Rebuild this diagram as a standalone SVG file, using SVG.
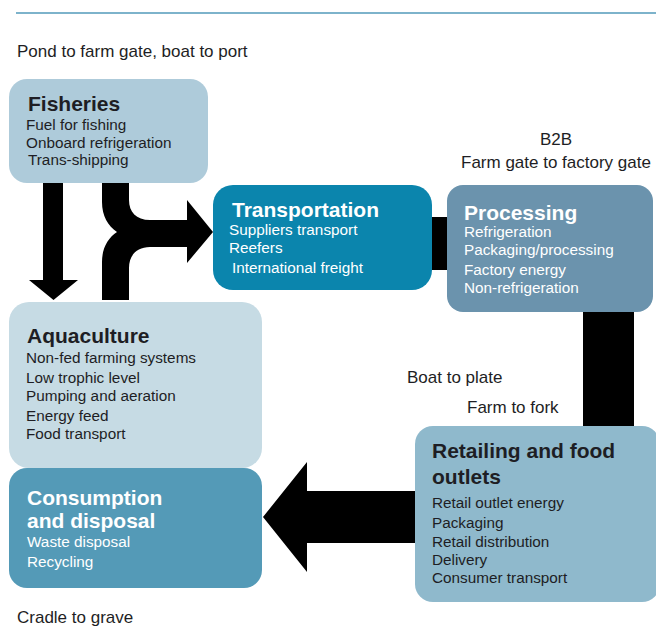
<svg xmlns="http://www.w3.org/2000/svg" width="656" height="626" viewBox="0 0 656 626">
  <style>
    text { font-family: "Liberation Sans", Arial, sans-serif; fill: #1e1e24; }
    .label { font-size: 17px; }
    .title { font-size: 21px; font-weight: bold; }
    .item { font-size: 15.3px; }
    .light text { fill: #ffffff; }
    .conn { fill: #000000; }
  </style>

  <!-- header rule -->
  <line x1="16" y1="13" x2="656" y2="13" stroke="#7db3cb" stroke-width="2"/>

  <!-- stage labels -->
  <g id="labels">
    <text class="label" x="17" y="57">Pond to farm gate, boat to port</text>
    <text class="label" x="556" y="145" text-anchor="middle">B2B</text>
    <text class="label" x="461" y="168">Farm gate to factory gate</text>
    <text class="label" x="407" y="383">Boat to plate</text>
    <text class="label" x="467" y="413">Farm to fork</text>
    <text class="label" x="17" y="623">Cradle to grave</text>
  </g>

  <!-- connectors -->
  <g id="connectors">
    <!-- fisheries down to aquaculture -->
    <path class="conn" d="M43,183 H63 V280 H78 L53.5,300 L29,280 H43 Z"/>
    <!-- fisheries / aquaculture merge into transportation -->
    <path class="conn" d="M102,183 H129 V200 C129,212 136,220 150,220 H187 V200 L213,232 L187,263 V247 H150 C136,247 129,256 129,268 V300 H102 V262 C102,248 108,238 117,232 C108,226 102,216 102,202 Z"/>
    <!-- transportation to processing -->
    <rect class="conn" x="431" y="217" width="17" height="53"/>
    <!-- processing down to retailing -->
    <rect class="conn" x="583" y="311" width="51" height="116"/>
    <!-- retailing to consumption -->
    <path class="conn" d="M416,491 V543 H307 V572 L263,517 L307,462 V491 Z"/>
  </g>

  <g id="fisheries">
    <rect x="9" y="79" width="199" height="104" rx="18" fill="#aecbda"/>
    <text class="title" x="28" y="111">Fisheries</text>
    <text class="item" x="26" y="130">Fuel for fishing</text>
    <text class="item" x="26" y="148">Onboard refrigeration</text>
    <text class="item" x="28" y="165">Trans-shipping</text>
  </g>

  <g id="transportation" class="light">
    <rect x="213" y="185" width="219" height="105" rx="20" fill="#0b85ad"/>
    <text class="title" x="232" y="217">Transportation</text>
    <text class="item" x="229" y="235">Suppliers transport</text>
    <text class="item" x="229" y="253">Reefers</text>
    <text class="item" x="232" y="273">International freight</text>
  </g>

  <g id="processing" class="light">
    <rect x="447" y="185" width="206" height="127" rx="16" fill="#6b93ad"/>
    <text class="title" x="464" y="220">Processing</text>
    <text class="item" x="464" y="237">Refrigeration</text>
    <text class="item" x="464" y="255">Packaging/processing</text>
    <text class="item" x="464" y="275">Factory energy</text>
    <text class="item" x="464" y="293">Non-refrigeration</text>
  </g>

  <g id="aquaculture">
    <rect x="9" y="302" width="253" height="166" rx="20" fill="#c6dbe4"/>
    <text class="title" x="27" y="343">Aquaculture</text>
    <text class="item" x="26" y="363">Non-fed farming systems</text>
    <text class="item" x="26" y="383">Low trophic level</text>
    <text class="item" x="26" y="401">Pumping and aeration</text>
    <text class="item" x="26" y="421">Energy feed</text>
    <text class="item" x="26" y="439">Food transport</text>
  </g>

  <g id="consumption" class="light">
    <rect x="9" y="468" width="253" height="120" rx="18" fill="#549ab7"/>
    <text class="title" x="27" y="505">Consumption</text>
    <text class="title" x="27" y="528">and disposal</text>
    <text class="item" x="27" y="547">Waste disposal</text>
    <text class="item" x="27" y="567">Recycling</text>
  </g>

  <g id="retailing">
    <rect x="415" y="426" width="245" height="176" rx="18" fill="#8fb9cc"/>
    <text class="title" x="432" y="458">Retailing and food</text>
    <text class="title" x="432" y="484">outlets</text>
    <text class="item" x="432" y="508">Retail outlet energy</text>
    <text class="item" x="432" y="528">Packaging</text>
    <text class="item" x="432" y="547">Retail distribution</text>
    <text class="item" x="432" y="565">Delivery</text>
    <text class="item" x="432" y="583">Consumer transport</text>
  </g>
</svg>
